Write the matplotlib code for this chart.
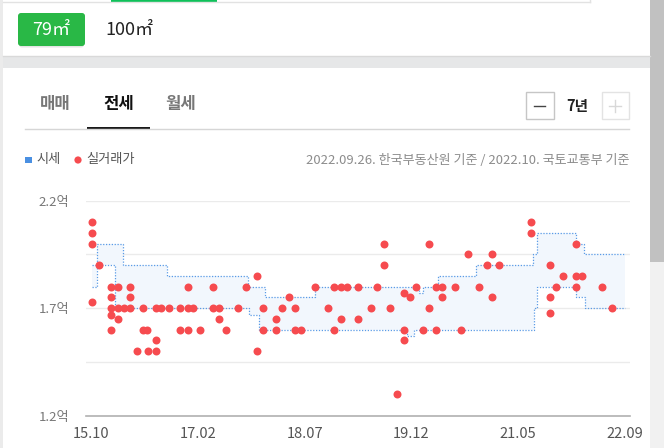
import numpy as np
import matplotlib
matplotlib.use("Agg")
from matplotlib import pyplot as plt
from matplotlib.patches import Rectangle, FancyBboxPatch, Circle

plt.rcParams['font.family'] = ['Noto Sans CJK KR', 'DejaVu Sans']

# months counted from 2015.10 (0 = 15.10)
tick_pos = [0, 16.6, 33.2, 49.8, 66.4, 83]
tick_labels = ['15.10', '17.02', '18.07', '19.12', '21.05', '22.09']
y_ticks = [1.2, 1.7, 2.2]
y_labels = ['1.2억', '1.7억', '2.2억']

# 시세 band (upper / lower), step changes
upper_m = [0, 0.9, 4.95, 11.7, 24.4, 27.0, 34.8, 51.0, 51.6, 53.9, 59.9, 68.7, 69.4, 75.4, 76.7, 83.05]
upper_v = [1.9, 2.0, 1.9, 1.85, 1.8, 1.75, 1.8, 1.77, 1.8, 1.85, 1.9, 1.95, 2.05, 2.0, 1.95, 1.95]
lower_m = [0, 0.9, 3.6, 24.6, 26.1, 49.1, 50.3, 68.9, 69.4, 75.4, 76.8, 83.05]
lower_v = [1.8, 1.9, 1.7, 1.67, 1.6, 1.57, 1.6, 1.7, 1.8, 1.75, 1.7, 1.7]

# 실거래가 deals
deal_m = [0, 0, 0, 0, 1.1,
          3.0, 3.0, 3.0, 3.0, 3.0, 4.1, 4.1, 4.1, 5.1, 6.0, 6.0, 6.0,
          7.1, 8.0, 8.0, 8.7, 8.8, 10.0, 10.0, 10.0, 10.8, 12.1, 13.8, 13.8,
          15.0, 15.0, 15.0, 15.8, 16.9, 18.9, 18.9, 19.8, 19.8, 20.9, 22.8,
          24.1, 25.8, 25.8, 26.7, 26.7, 28.8, 28.8, 29.7, 30.8, 31.7, 31.7, 32.7,
          34.8, 36.8, 37.8, 37.8, 38.9, 38.9, 39.8, 41.5, 41.5, 43.6, 44.5,
          45.6, 45.6, 46.5, 47.6, 48.6, 48.6, 48.6, 49.6, 50.6, 51.6, 52.5, 52.5,
          53.6, 53.6, 54.6, 54.6, 56.6, 57.6, 58.7, 60.4, 61.6, 62.4, 62.4, 63.4,
          68.4, 68.4, 71.4, 71.4, 71.4, 72.4, 73.5, 75.5, 75.5, 75.5, 76.4,
          79.5, 81.1]
deal_p = [2.1, 2.05, 2.0, 1.73, 1.9,
          1.8, 1.75, 1.7, 1.67, 1.6, 1.8, 1.7, 1.65, 1.7, 1.8, 1.75, 1.7,
          1.5, 1.7, 1.6, 1.6, 1.5, 1.7, 1.55, 1.5, 1.7, 1.7, 1.7, 1.6,
          1.8, 1.7, 1.6, 1.7, 1.6, 1.8, 1.7, 1.7, 1.65, 1.6, 1.7,
          1.8, 1.85, 1.5, 1.7, 1.6, 1.65, 1.6, 1.7, 1.75, 1.7, 1.6, 1.6,
          1.8, 1.7, 1.8, 1.6, 1.8, 1.65, 1.8, 1.8, 1.65, 1.7, 1.8,
          2.0, 1.9, 1.7, 1.3, 1.77, 1.6, 1.55, 1.75, 1.8, 1.6, 2.0, 1.7,
          1.8, 1.6, 1.8, 1.75, 1.8, 1.6, 1.95, 1.8, 1.9, 1.95, 1.75, 1.9,
          2.1, 2.05, 1.9, 1.75, 1.68, 1.8, 1.85, 2.0, 1.85, 1.8, 1.85,
          1.8, 1.7]

W, H = 664, 448
fig = plt.figure(figsize=(W / 100, H / 100), dpi=100)
fig.patch.set_facecolor('white')

# page overlay in pixel coords
ui = fig.add_axes([0, 0, 1, 1])
ui.set_xlim(0, W)
ui.set_ylim(H, 0)
ui.axis('off')

ui.add_patch(Rectangle((0, 0), 3, H, color='#ebebeb', lw=0))
ui.add_patch(Rectangle((650, 0), 14, H, color='#f1f1f1', lw=0))
ui.add_patch(Rectangle((650, 0), 14, 262, color='#c1c1c1', lw=0))
ui.plot([3, 590], [2.5, 2.5], color='#e2e2e2', lw=1)
ui.plot([590, 590], [0, 2.5], color='#e2e2e2', lw=1)
ui.add_patch(Rectangle((111, 0), 106, 2.5, color='#0fc15a', lw=0))

# area buttons
ui.add_patch(FancyBboxPatch((19, 14.5), 65, 33, boxstyle='round,pad=0,rounding_size=3',
                            color='#e4e4e4', lw=0))
ui.add_patch(FancyBboxPatch((18, 13), 67, 33, boxstyle='round,pad=0,rounding_size=3',
                            color='#29b846', lw=0))
ui.text(51.5, 30, '79㎡', color='white', fontsize=13, ha='center', va='center')
ui.text(105, 30, '100㎡', color='#222222', fontsize=13, ha='left', va='center')

ui.plot([3, 650], [56, 56], color='#d9d9d9', lw=1)
ui.add_patch(Rectangle((3, 56.5), 647, 11.5, color='#e6e7e8', lw=0))

# tabs
ui.text(55, 104, '매매', color='#777777', fontsize=12, fontweight='bold', ha='center', va='center')
ui.text(119, 104, '전세', color='#111111', fontsize=12, fontweight='bold', ha='center', va='center')
ui.text(181, 104, '월세', color='#777777', fontsize=12, fontweight='bold', ha='center', va='center')
ui.plot([25, 629], [129, 129], color='#d6d6d6', lw=1)
ui.add_patch(Rectangle((87, 127.5), 63, 2.5, color='#1a1a1a', lw=0))

ui.add_patch(Rectangle((525.5, 92.5), 28, 27, fill=False, edgecolor='#c6c6c6', lw=1))
ui.plot([534, 545], [106, 106], color='#444444', lw=1)
ui.text(577, 106, '7년', color='#222222', fontsize=10.5, fontweight='bold', ha='center', va='center')
ui.add_patch(Rectangle((601.5, 92.5), 27, 27, fill=False, edgecolor='#e3e3e3', lw=1))
ui.plot([609, 621], [106, 106], color='#d8d8d8', lw=1)
ui.plot([615, 615], [100, 112], color='#d8d8d8', lw=1)

# legend row
ui.add_patch(Rectangle((25, 157), 6.5, 6.5, color='#4a90e2', lw=0))
ui.text(36, 160, '시세', color='#555555', fontsize=9.5, ha='left', va='center')
ui.add_patch(Circle((78, 160), 3.6, color='#f64b4f', lw=0))
ui.text(86, 160, '실거래가', color='#555555', fontsize=9.5, ha='left', va='center')
ui.text(629, 160, '2022.09.26. 한국부동산원 기준 / 2022.10. 국토교통부 기준',
        color='#8c8c8c', fontsize=9.4, ha='right', va='center')

# chart axes
x0, x1 = 86, 630
ytop, ybot = 200.7, 415.7
ax = fig.add_axes([x0 / W, 1 - ybot / H, (x1 - x0) / W, (ybot - ytop) / H])
ax.set_facecolor('none')
ax.set_xlim(-0.857, 83.88)
ax.set_ylim(1.2, 2.2)

for g in [1.45, 1.7, 1.95, 2.2]:
    ax.axhline(g, color='#ebebeb', lw=1, zorder=0)
ax.axhline(1.2, color='#b0b0b0', lw=1.2, zorder=1, clip_on=False)

def steps(ms, vs, xs):
    idx = np.searchsorted(ms, xs, side='right') - 1
    return np.asarray(vs)[idx]

xs = np.unique(np.concatenate([upper_m, lower_m]))
ax.fill_between(xs, steps(lower_m, lower_v, xs), steps(upper_m, upper_v, xs),
                step='post', color='#f2f7fd', lw=0, zorder=1)
ax.step(upper_m, upper_v, where='post', color='#5a9be6', lw=0.9, ls=(0, (1, 1.3)), zorder=2)
ax.step(lower_m, lower_v, where='post', color='#5a9be6', lw=0.9, ls=(0, (1, 1.3)), zorder=2)

ax.scatter(deal_m, deal_p, s=33, color='#f64b4f', lw=0, zorder=3)

for s in ax.spines.values():
    s.set_visible(False)
ax.set_xticks(tick_pos)
ax.set_xticklabels(tick_labels, color='#555555', fontsize=10.5)
ax.set_yticks(y_ticks)
ax.set_yticklabels(y_labels, color='#777777', fontsize=9.5)
ax.tick_params(axis='both', length=0)
ax.tick_params(axis='x', pad=8)
ax.tick_params(axis='y', pad=12)

fig.savefig('out.png', dpi=100)
